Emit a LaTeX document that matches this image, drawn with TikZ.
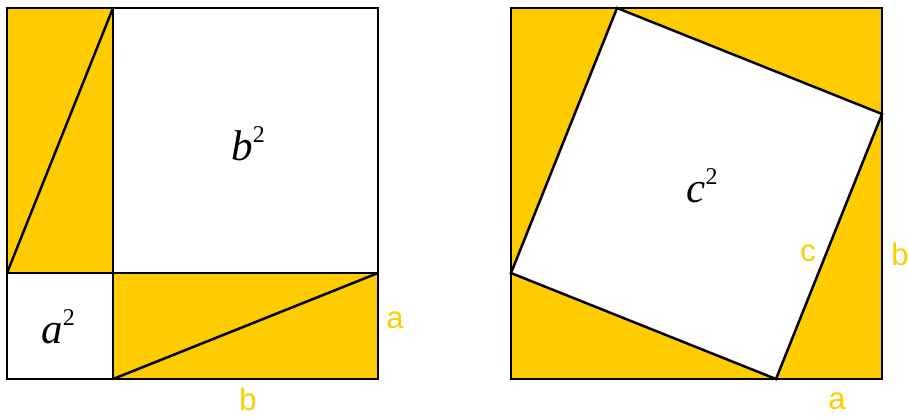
\documentclass[tikz,border=0pt]{standalone}
\usepackage{fontspec}
\setmainfont{Liberation Serif}
\newfontfamily\labfont{Liberation Sans}
\definecolor{gold}{HTML}{FFCC00}
\newcommand{\sqlab}[1]{{\fontsize{43}{45}\selectfont\textit{#1}}\raisebox{18pt}{\fontsize{24}{25}\selectfont 2}}
\tikzset{piece/.style={fill=gold,draw=black,line width=2.5pt,line join=miter},
  hole/.style={fill=white,draw=black,line width=2.5pt},
  side/.style={text=gold,font=\labfont\fontsize{31}{33}\selectfont,inner sep=0pt}}

\begin{document}
\begin{tikzpicture}[x=1pt,y=-1pt]
\useasboundingbox (0,0) rectangle (909,416);
% left square: a^2 + b^2
\coordinate (L1) at (7,8);\coordinate (L2) at (113,8);\coordinate (L3) at (378,8);
\coordinate (L4) at (7,273);\coordinate (L5) at (113,273);\coordinate (L6) at (378,273);
\coordinate (L7) at (7,379);\coordinate (L8) at (113,379);\coordinate (L9) at (378,379);
\draw[piece] (L1) rectangle (L5);\draw[piece] (L5) rectangle (L9);
\draw[hole] (L2) rectangle (L6);\draw[hole] (L4) rectangle (L8);
\draw[line width=2.5pt] (L4)--(L2) (L8)--(L6);
\node (bsq) at (248,144){\sqlab{b}};\node (asq) at (58,327){\sqlab{a}};
\node[side] (la) at (395,320){a};\node[side] (lb) at (248,399){b};
% right square: c^2
\coordinate (R1) at (511,8);\coordinate (R2) at (882,8);\coordinate (R3) at (882,379);\coordinate (R4) at (511,379);
\coordinate (C1) at (617,8);\coordinate (C2) at (882,114);\coordinate (C3) at (776,379);\coordinate (C4) at (511,273);
\draw[piece] (R1) rectangle (R3);
\draw[hole] (C1)--(C2)--(C3)--(C4)--cycle;
\node (csq) at (702,186){\sqlab{c}};
\node[side] (rc) at (808,253){c};\node[side] (rb) at (900,254){b};\node[side] (ra) at (837,401){a};
\end{tikzpicture}
\end{document}
